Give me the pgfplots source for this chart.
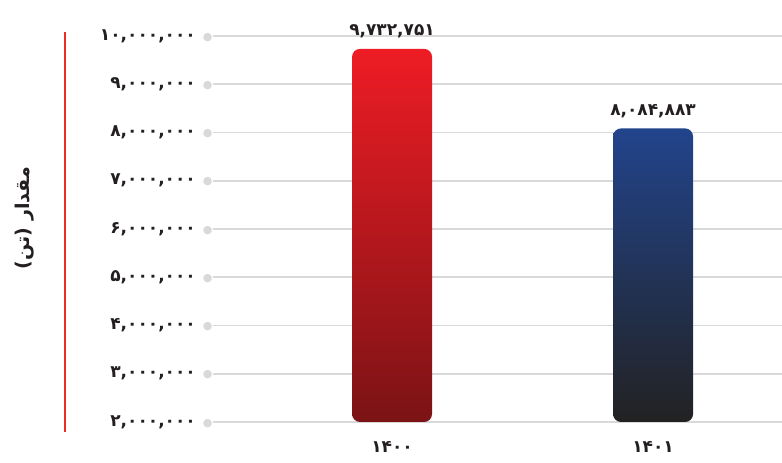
\documentclass[border=0pt]{standalone}
\usepackage{fontspec}
\usepackage{pgfplots}
\pgfplotsset{compat=1.18}
\TeXXeTstate=1
\newfontfamily\fa[Script=Arabic]{DejaVu Sans}
\definecolor{gridc}{HTML}{D9D9D9}
\definecolor{redtop}{HTML}{EE1C25}
\definecolor{redbot}{HTML}{7B1315}
\definecolor{bluetop}{HTML}{22448C}
\definecolor{bluebot}{HTML}{222222}
\definecolor{txt}{HTML}{231F20}
\definecolor{redline}{HTML}{EE2A24}
\newcommand{\tl}[1]{#1\hspace{7pt}{\color{gridc}\fontsize{11}{11}\selectfont●}}
\begin{document}
\begin{tikzpicture}
\begin{axis}[
  name=ax,
  at={(0pt,0pt)}, anchor=south west,
  scale only axis, width=569pt, height=386pt,
  xmin=-0.686, xmax=1.494,
  ymin=0, ymax=8000000,
  y filter/.expression={y-2000000},
  axis line style={draw=none},
  ymajorgrids, major grid style={gridc, line width=1.6pt},
  tick style={draw=none},
  ytick={0,1000000,2000000,3000000,4000000,5000000,6000000,7000000,8000000},
  yticklabels={{\tl{۲,۰۰۰,۰۰۰}},{\tl{۳,۰۰۰,۰۰۰}},{\tl{۴,۰۰۰,۰۰۰}},{\tl{۵,۰۰۰,۰۰۰}},{\tl{۶,۰۰۰,۰۰۰}},{\tl{۷,۰۰۰,۰۰۰}},{\tl{۸,۰۰۰,۰۰۰}},{\tl{۹,۰۰۰,۰۰۰}},{\tl{۱۰,۰۰۰,۰۰۰}}},
  xtick={0,1}, xticklabels={۱۴۰۰,۱۴۰۱},
  ticklabel style={font=\fa\bfseries\fontsize{17}{17}\selectfont, text=txt},
  yticklabel style={anchor=east, xshift=3pt},
  xticklabel style={yshift=-12pt},
  scaled y ticks=false,
  ybar, bar width=0.3065, bar shift=0pt,
  nodes near coords, point meta=explicit symbolic,
  nodes near coords style={font=\fa\bfseries\fontsize{17}{17}\selectfont, text=txt, anchor=south, yshift=7pt},
  clip=false,
]
\addplot[ybar, draw=none, top color=redtop, bottom color=redbot, rounded corners=8pt] coordinates {(0,9732751) [۹,۷۳۲,۷۵۱]};
\addplot[ybar, draw=none, top color=bluetop, bottom color=bluebot, rounded corners=8pt] coordinates {(1,8084883) [۸,۰۸۴,۸۸۳]};
\end{axis}
\pgfresetboundingbox
\begin{scope}[shift={(ax.south west)}, shift={(-213pt,-41pt)}, x=1pt, y=1pt]
\useasboundingbox (0,0) rectangle (782,463);
\draw[redline, line width=2pt] (65,31) -- (65,431);
\node[rotate=90, text=txt, font=\fa\bfseries\fontsize{19}{19}\selectfont] at (25,245) {\beginR مقدار (تن)\endR};
\end{scope}
\end{tikzpicture}
\end{document}
